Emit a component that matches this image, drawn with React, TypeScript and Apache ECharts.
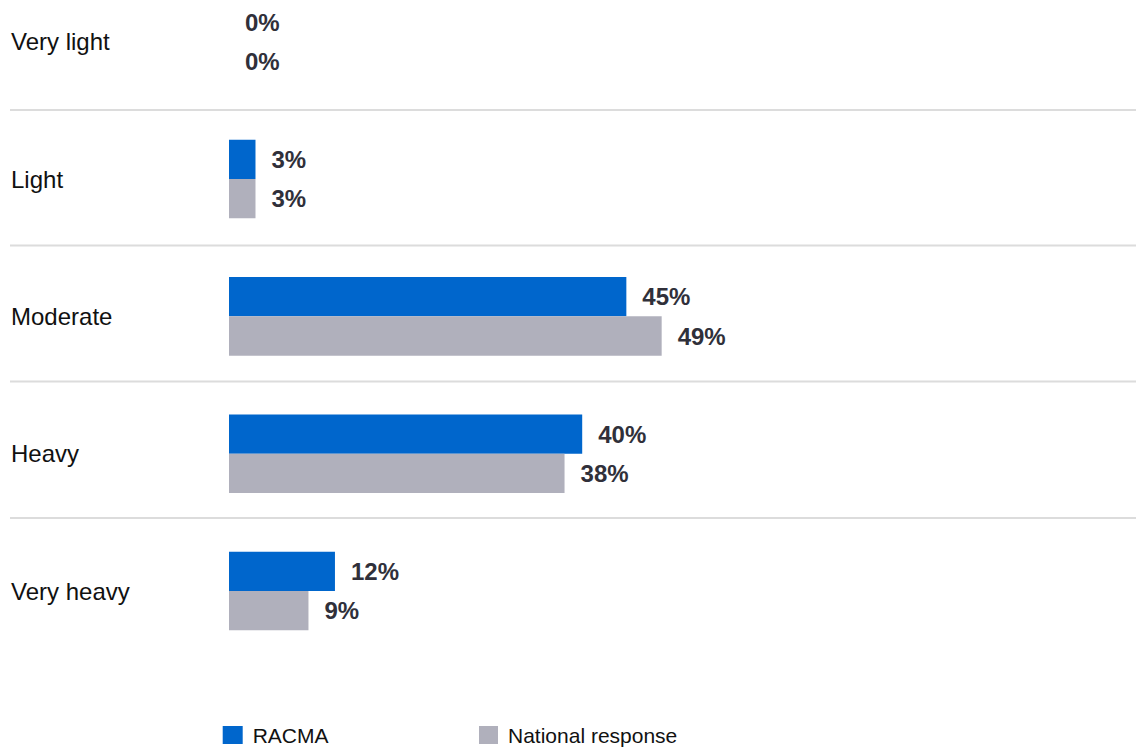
import React, { useEffect, useRef } from "react";
import * as echarts from "echarts";

const categories = ["Very light", "Light", "Moderate", "Heavy", "Very heavy"];
const racma = [0, 3, 45, 40, 12];
const national = [0, 3, 49, 38, 9];
const seriesNames = ["RACMA", "National response"];
const separatorYs = [110, 245.5, 381.5, 518];

export default function App() {
  const ref = useRef<HTMLDivElement>(null);
  useEffect(() => {
    if (!ref.current) return;
    const chart = echarts.init(ref.current, undefined, { renderer: "svg" });
    const labelStyle = {
      show: true,
      position: "right" as const,
      distance: 16,
      formatter: "{c}%",
      fontFamily: "Liberation Sans, Arial, sans-serif",
      fontSize: 24,
      fontWeight: "bold" as const,
      color: "#30303a",
    };
    const legendText = {
      fontFamily: "Liberation Sans, Arial, sans-serif",
      fontSize: 21,
      color: "#111111",
      padding: [0, 0, 0, 5],
    };
    chart.setOption({
      animation: false,
      backgroundColor: "#ffffff",
      grid: { left: 229, right: 24, top: 41.7, height: 549.3, containLabel: false },
      xAxis: {
        type: "value",
        min: 0,
        max: 100,
        show: false,
      },
      yAxis: {
        type: "category",
        data: categories,
        inverse: true,
        boundaryGap: false,
        axisLine: { show: false },
        axisTick: { show: false },
        splitLine: { show: false },
        axisLabel: {
          align: "left",
          margin: 218,
          fontFamily: "Liberation Sans, Arial, sans-serif",
          fontSize: 24,
          color: "#111111",
        },
      },
      legend: [
        {
          data: [seriesNames[0]],
          left: 222.7,
          top: 724.5,
          padding: 0,
          itemWidth: 20,
          itemHeight: 18,
          icon: "rect",
          textStyle: legendText,
        },
        {
          data: [seriesNames[1]],
          left: 479,
          top: 724.5,
          padding: 0,
          itemWidth: 19,
          itemHeight: 18,
          icon: "rect",
          textStyle: legendText,
        },
      ],
      graphic: separatorYs.map((y) => ({
        type: "line",
        shape: { x1: 10, y1: y, x2: 1136, y2: y },
        style: { stroke: "#dcdcdc", lineWidth: 2 },
        silent: true,
      })),
      series: [
        {
          name: seriesNames[0],
          type: "bar",
          data: racma,
          barWidth: 39.3,
          barGap: "0%",
          itemStyle: { color: "#0066cc" },
          label: labelStyle,
        },
        {
          name: seriesNames[1],
          type: "bar",
          data: national,
          barWidth: 39.3,
          barGap: "0%",
          itemStyle: { color: "#b0b0bc" },
          label: labelStyle,
        },
      ],
    });
    return () => chart.dispose();
  }, []);
  return (
    <div
      ref={ref}
      style={{ position: "fixed", left: 0, top: 0, width: 1136, height: 747 }}
    />
  );
}
